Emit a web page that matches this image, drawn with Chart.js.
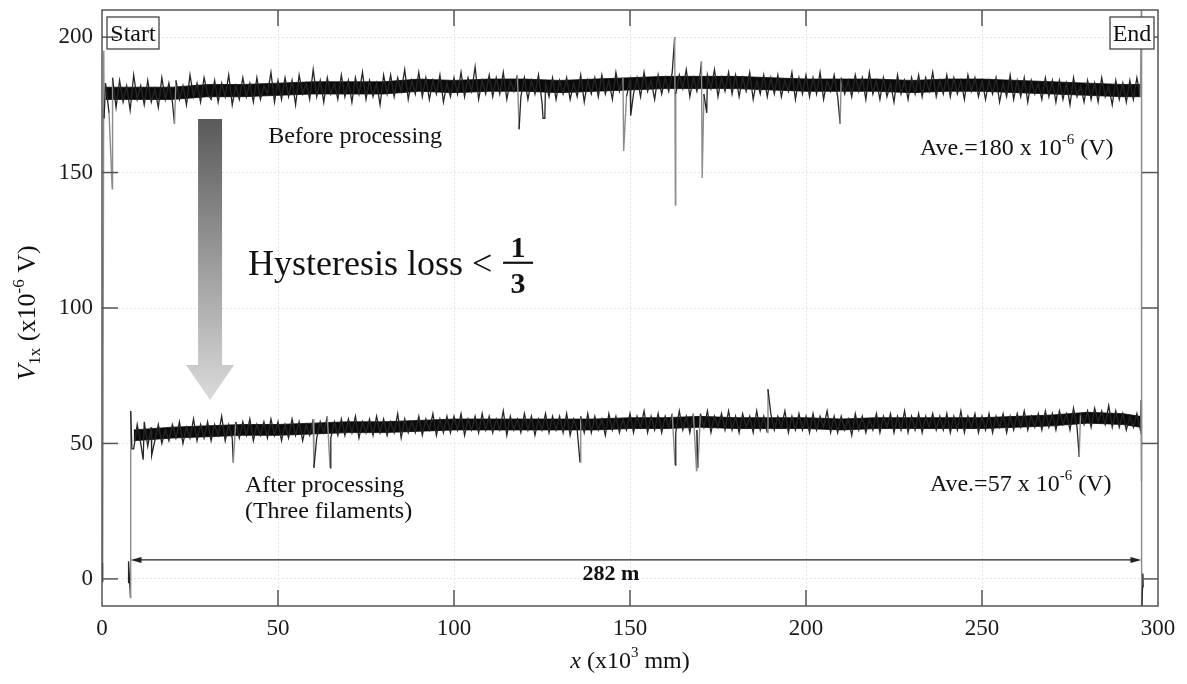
<!DOCTYPE html>
<html>
<head>
<meta charset="utf-8">
<title>V1x along the tape</title>
<script src="https://cdn.jsdelivr.net/npm/chart.js@4.4.1/dist/chart.umd.min.js"></script>
<style>
  html, body { margin: 0; padding: 0; background: #fff; }
  #wrap { width: 1187px; height: 684px; }
</style>
</head>
<body>
<div id="wrap"><canvas id="chart"></canvas></div>
<script>
// values: x in 10^3 mm, V1x in 10^-6 V
const xTicks = [0, 50, 100, 150, 200, 250, 300];
const yTicks = [0, 50, 100, 150, 200];

// before processing, one reading per 1 (x10^3 mm) from x = 1
const beforeStart = 1;
const beforeV = [
  183, 172, 185, 174, 184, 176, 182, 173, 186, 177,
  182, 175, 184, 176, 181, 174, 185, 177, 183, 176,
  184, 177, 182, 175, 186, 178, 183, 176, 185, 179,
  177, 184, 176, 183, 178, 186, 175, 182, 177, 185,
  178, 183, 176, 185, 177, 182, 179, 187, 176, 184,
  177, 185, 178, 184, 175, 186, 179, 183, 177, 188,
  178, 184, 176, 185, 179, 183, 177, 186, 178, 184,
  176, 185, 179, 187, 177, 184, 178, 183, 175, 186,
  179, 186, 178, 185, 180, 188, 177, 184, 179, 187,
  178, 185, 177, 184, 179, 186, 176, 183, 178, 185,
  179, 187, 178, 185, 180, 189, 177, 184, 179, 186,
  178, 185, 179, 187, 177, 184, 180, 186, 178, 185,
  177, 184, 179, 186, 176, 183, 178, 185, 177, 184,
  179, 185, 177, 183, 178, 186, 176, 184, 179, 185,
  178, 186, 179, 184, 177, 187, 180, 185, 178, 184,
  179, 185, 178, 187, 180, 184, 177, 186, 179, 185,
  180, 187, 179, 186, 181, 188, 178, 185, 180, 187,
  179, 186, 181, 188, 178, 185, 180, 187, 179, 186,
  178, 185, 180, 187, 177, 184, 179, 186, 178, 185,
  179, 186, 178, 184, 180, 187, 177, 185, 179, 186,
  178, 185, 179, 187, 177, 184, 180, 186, 178, 185,
  179, 184, 178, 186, 180, 185, 177, 187, 179, 184,
  177, 185, 178, 183, 176, 186, 179, 184, 177, 185,
  179, 186, 178, 185, 180, 187, 178, 184, 179, 186,
  178, 185, 179, 184, 177, 186, 180, 185, 178, 184,
  177, 184, 179, 185, 176, 183, 178, 186, 177, 184,
  178, 185, 176, 184, 179, 183, 177, 185, 178, 184,
  176, 184, 177, 183, 175, 185, 178, 182, 176, 184,
  177, 183, 176, 185, 178, 182, 175, 184, 177, 183,
  176, 184, 177, 185, 178
];
// spikes, start and end of the before trace
const beforeExtraX = [0.1, 0.2, 0.5, 0.6, 2.9, 20.6, 118.5, 125.3, 125.8, 148.2, 150.2, 162.7, 162.9, 170.3, 170.5, 171.8, 209.7, 295.3, 295.35, 295.6, 295.7, 295.8];
const beforeExtraV = [-1, 6, 195, 170, 144, 168, 166, 170, 170, 158, 171, 200, 138, 191, 148, 172, 168, 215, -15, -3, 2, -3];
// dense core of the before band (solid black part)
const beforeCoreX = [1, 10, 20, 30, 40, 50, 60, 70, 80, 90, 100, 110, 120, 130, 140, 150, 160, 170, 180, 190, 200, 210, 220, 230, 240, 250, 260, 270, 280, 290, 295];
const beforeCoreLo = [177, 177, 177, 178, 178, 178.5, 179, 179, 179, 180, 179.5, 180, 180, 179.5, 180, 180.5, 181, 181, 181, 180.5, 180, 180, 180, 179.5, 180, 180, 179.5, 179, 178.5, 178, 178];
const beforeCoreHi = [181.5, 181.5, 181.5, 182.5, 182.5, 183, 183.5, 183.5, 183.5, 184.5, 184, 184.5, 184.5, 184, 184.5, 185, 185.5, 185.5, 185.5, 185, 184.5, 184.5, 184.5, 184, 184.5, 184.5, 184, 183.5, 183, 182.5, 182.5];

// after processing (three filaments), one reading per 1 (x10^3 mm) from x = 9
const afterStart = 9;
const afterV = [
  48, 57, 50, 58, 49, 56, 51, 57, 50, 55,
  51, 57, 52, 58, 50, 56, 52, 59, 51, 57,
  52, 58, 51, 57, 53, 60, 51, 57, 52, 58,
  52, 58, 53, 59, 51, 57, 53, 58, 52, 59,
  53, 58, 51, 57, 52, 59, 53, 58, 51, 57,
  53, 59, 52, 58, 54, 60, 52, 58, 53, 59,
  53, 59, 54, 60, 52, 58, 54, 59, 53, 60,
  54, 59, 53, 58, 54, 61, 52, 59, 54, 58,
  54, 60, 53, 59, 55, 61, 53, 59, 54, 60,
  54, 60, 55, 61, 53, 59, 55, 60, 54, 61,
  55, 60, 54, 59, 55, 62, 53, 60, 55, 59,
  54, 61, 55, 60, 53, 59, 55, 61, 54, 60,
  55, 60, 54, 61, 53, 59, 55, 60, 54, 61,
  54, 60, 55, 59, 53, 61, 55, 60, 54, 59,
  55, 61, 54, 60, 56, 62, 54, 60, 55, 61,
  54, 60, 56, 61, 54, 62, 55, 60, 54, 61,
  55, 61, 56, 62, 54, 60, 56, 61, 55, 62,
  55, 60, 54, 61, 56, 60, 54, 62, 55, 60,
  54, 61, 55, 60, 56, 62, 54, 60, 55, 61,
  55, 60, 54, 61, 55, 60, 56, 62, 54, 60,
  54, 60, 55, 59, 53, 61, 55, 60, 54, 59,
  55, 61, 54, 60, 56, 61, 54, 60, 55, 62,
  54, 60, 55, 61, 54, 60, 56, 61, 55, 60,
  55, 61, 54, 60, 55, 62, 54, 60, 56, 61,
  54, 60, 55, 61, 54, 60, 56, 61, 54, 60,
  55, 61, 56, 62, 55, 60, 56, 61, 55, 62,
  56, 61, 55, 62, 57, 61, 55, 63, 56, 61,
  57, 62, 56, 63, 58, 62, 57, 64, 56, 62,
  56, 61, 55, 60, 56, 61, 55
];
const afterExtraX = [7.5, 7.55, 8.1, 8.15, 8.5, 11.7, 14.1, 37.3, 60.2, 64.8, 135.8, 162.8, 168.9, 169.3, 189.2, 277.6, 295.2, 295.3];
const afterExtraV = [-1.5, 6.5, -7, 62, 48, 44, 45.5, 43, 41, 41, 43, 42, 40, 41, 70, 45, 66, 36];
const afterCoreX = [9, 20, 30, 40, 50, 60, 70, 80, 90, 100, 110, 120, 130, 140, 150, 160, 170, 180, 190, 200, 210, 220, 230, 240, 250, 260, 270, 280, 290, 295];
const afterCoreLo = [51, 52, 52.5, 53, 53, 53.5, 54, 54, 54.5, 55, 55, 55, 55, 55, 55.5, 55.5, 56, 55.5, 55.5, 55.5, 55, 55.5, 55.5, 55.5, 55.5, 56, 56.5, 57.5, 57, 56];
const afterCoreHi = [55, 56, 56.5, 57, 57, 57.5, 58, 58, 58.5, 59, 59, 59, 59, 59, 59.5, 59.5, 60, 59.5, 59.5, 59.5, 59, 59.5, 59.5, 59.5, 59.5, 60, 60.5, 61.5, 61, 60];

const serif = '"Liberation Serif", "Times New Roman", serif';

function buildSeries(start, values, extraX, extraV) {
	const pts = values.map((v, i) => ({ x: start + i, y: v }));
	extraX.forEach((x, i) => pts.push({ x: x, y: extraV[i] }));
	return pts.sort((a, b) => a.x - b.x);
}

function zip(xs, ys) {
	return xs.map((x, i) => ({ x: x, y: ys[i] }));
}

// the tall jumps (spikes, start/end drops) come out as thin grey strokes
const spikeSegment = {
	borderColor: c => (Math.abs(c.p1.parsed.y - c.p0.parsed.y) > 14 ? "#8c8c8c" : "#262626"),
	borderWidth: c => (Math.abs(c.p1.parsed.y - c.p0.parsed.y) > 14 ? 1.4 : 1.3),
};

function traceSet(label, data) {
	return { label: label, data: data, showLine: true, borderColor: "#111", borderWidth: 1.3, pointRadius: 0, tension: 0, order: 0, segment: spikeSegment };
}

function coreSet(label, data, fill) {
	return { label: label, data: data, showLine: true, borderColor: "#0a0a0a", backgroundColor: "#0a0a0a", borderWidth: 0.8, pointRadius: 0, tension: 0, order: 1, fill: fill };
}

// draws text pieces one after another: [text, font, dy]
function drawRich(ctx, parts, x, y, align) {
	let w = 0;
	parts.forEach(p => { ctx.font = p[1]; w += ctx.measureText(p[0]).width; });
	let cx = align === "center" ? x - w / 2 : x;
	ctx.textAlign = "left";
	parts.forEach(p => {
		ctx.font = p[1];
		ctx.fillText(p[0], cx, y + (p[2] || 0));
		cx += ctx.measureText(p[0]).width;
	});
}

const decorPlugin = {
	id: "decor",
	afterDatasetsDraw(chart) {
		const { ctx, chartArea: a, scales: { x, y } } = chart;
		const P = (xv, yv) => [x.getPixelForValue(xv), y.getPixelForValue(yv)];
		const line = (x1, y1, x2, y2) => { ctx.beginPath(); ctx.moveTo(x1, y1); ctx.lineTo(x2, y2); ctx.stroke(); };
		ctx.save();

		// inner tick marks and frame
		ctx.strokeStyle = "#555";
		ctx.lineWidth = 1.5;
		xTicks.slice(1, -1).forEach(v => {
			const px = x.getPixelForValue(v);
			line(px, a.bottom, px, a.bottom - 16);
			line(px, a.top, px, a.top + 16);
		});
		yTicks.forEach(v => {
			const py = y.getPixelForValue(v);
			line(a.left, py, a.left + 16, py);
			line(a.right, py, a.right - 16, py);
		});
		ctx.strokeRect(a.left, a.top, a.right - a.left, a.bottom - a.top);

		// big shaded arrow
		const [ax, aTop] = P(30.7, 169.8);
		const headTop = y.getPixelForValue(79);
		const tip = y.getPixelForValue(66);
		const g = ctx.createLinearGradient(0, aTop, 0, tip);
		g.addColorStop(0, "#5a5a5a");
		g.addColorStop(1, "#dadada");
		ctx.fillStyle = g;
		ctx.beginPath();
		ctx.moveTo(ax - 12, aTop);
		ctx.lineTo(ax + 12, aTop);
		ctx.lineTo(ax + 12, headTop);
		ctx.lineTo(ax + 24, headTop);
		ctx.lineTo(ax, tip);
		ctx.lineTo(ax - 24, headTop);
		ctx.lineTo(ax - 12, headTop);
		ctx.closePath();
		ctx.fill();

		// 282 m double arrow
		const [l1, ly] = P(8.1, 7);
		const [l2] = P(295.3, 7);
		ctx.strokeStyle = "#222";
		ctx.fillStyle = "#222";
		ctx.lineWidth = 1.2;
		line(l1 + 6, ly, l2 - 6, ly);
		ctx.beginPath(); ctx.moveTo(l1, ly); ctx.lineTo(l1 + 11, ly - 3); ctx.lineTo(l1 + 11, ly + 3); ctx.closePath(); ctx.fill();
		ctx.beginPath(); ctx.moveTo(l2, ly); ctx.lineTo(l2 - 11, ly - 3); ctx.lineTo(l2 - 11, ly + 3); ctx.closePath(); ctx.fill();

		// labels
		ctx.fillStyle = "#111";
		ctx.textBaseline = "alphabetic";
		const f = (s, b) => (b ? "bold " : "") + s + "px " + serif;
		let p = P(47.2, 160.9);
		drawRich(ctx, [["Before processing", f(24)]], p[0], p[1]);
		p = P(232.4, 156.5);
		drawRich(ctx, [["Ave.=180 x 10", f(24)], ["-6", f(15), -11], [" (V)", f(24)]], p[0], p[1]);
		p = P(41.5, 112.2);
		drawRich(ctx, [["Hysteresis loss <", f(36)]], p[0], p[1]);
		const [fx, fy] = P(118.2, 116.7);
		ctx.textAlign = "center";
		ctx.font = f(30, true);
		ctx.fillText("1", fx, y.getPixelForValue(118.9));
		ctx.fillText("3", fx, y.getPixelForValue(105.6));
		ctx.lineWidth = 2.2;
		ctx.strokeStyle = "#111";
		line(fx - 15, fy, fx + 15, fy);
		p = P(40.6, 32.1);
		drawRich(ctx, [["After processing", f(24)]], p[0], p[1]);
		p = P(40.6, 22.5);
		drawRich(ctx, [["(Three filaments)", f(24)]], p[0], p[1]);
		p = P(235.2, 32.4);
		drawRich(ctx, [["Ave.=57 x 10", f(24)], ["-6", f(15), -11], [" (V)", f(24)]], p[0], p[1]);
		p = P(144.6, -0.4);
		drawRich(ctx, [["282 m", f(22, true)]], p[0], p[1], "center");

		// Start / End boxes
		ctx.strokeStyle = "#444";
		ctx.lineWidth = 1.3;
		ctx.fillStyle = "#fff";
		ctx.fillRect(a.right - 48, a.top + 7, 44, 32);
		ctx.fillStyle = "#111";
		ctx.strokeRect(a.left + 5, a.top + 7, 52, 32);
		drawRich(ctx, [["Start", f(24)]], a.left + 31, a.top + 31, "center");
		ctx.strokeRect(a.right - 48, a.top + 7, 44, 32);
		drawRich(ctx, [["End", f(24)]], a.right - 26, a.top + 31, "center");

		// axis titles
		drawRich(ctx, [["x", "italic " + f(24)], [" (x10", f(24)], ["3", f(15), -11], [" mm)", f(24)]], (a.left + a.right) / 2, 668, "center");
		ctx.translate(35, y.getPixelForValue(100) + 5);
		ctx.rotate(-Math.PI / 2);
		drawRich(ctx, [["V", "italic " + f(26)], ["1x", f(17), 5], [" (x10", f(26)], ["-6", f(17), -11], [" V)", f(26)]], 0, 0, "center");
		ctx.restore();
	}
};

const ctx = document.getElementById("chart").getContext("2d");
new Chart(ctx, {
	type: "scatter",
	data: {
		datasets: [
			traceSet("Before processing", buildSeries(beforeStart, beforeV, beforeExtraX, beforeExtraV)),
			traceSet("After processing (Three filaments)", buildSeries(afterStart, afterV, afterExtraX, afterExtraV)),
			coreSet("before core low", zip(beforeCoreX, beforeCoreLo), false),
			coreSet("before core high", zip(beforeCoreX, beforeCoreHi), "-1"),
			coreSet("after core low", zip(afterCoreX, afterCoreLo), false),
			coreSet("after core high", zip(afterCoreX, afterCoreHi), "-1"),
		],
	},
	options: {
		responsive: true,
		maintainAspectRatio: false,
		animation: false,
		layout: { padding: { left: 0, top: 10, right: 29, bottom: 0 } },
		plugins: { legend: { display: false }, tooltip: { enabled: false } },
		scales: {
			x: {
				type: "linear",
				min: 0,
				max: 300,
				afterBuildTicks: s => { s.ticks = xTicks.map(v => ({ value: v })); },
				afterFit: s => { s.height = 78; s.paddingLeft = 0; s.paddingRight = 0; },
				ticks: { color: "#1a1a1a", font: { family: serif, size: 23 }, padding: 9, maxRotation: 0 },
				grid: { color: "#e2e2f2", lineWidth: 1, drawTicks: false },
				border: { display: false, dash: [2, 2] },
			},
			y: {
				type: "linear",
				min: -10,
				max: 210,
				afterBuildTicks: s => { s.ticks = yTicks.map(v => ({ value: v })); },
				afterFit: s => { s.width = 102; s.paddingTop = 0; s.paddingBottom = 0; },
				ticks: { color: "#1a1a1a", font: { family: serif, size: 23 }, padding: 9 },
				grid: { color: "#e2e2f2", lineWidth: 1, drawTicks: false },
				border: { display: false, dash: [2, 2] },
			},
		},
	},
	plugins: [decorPlugin],
});
</script>
</body>
</html>
